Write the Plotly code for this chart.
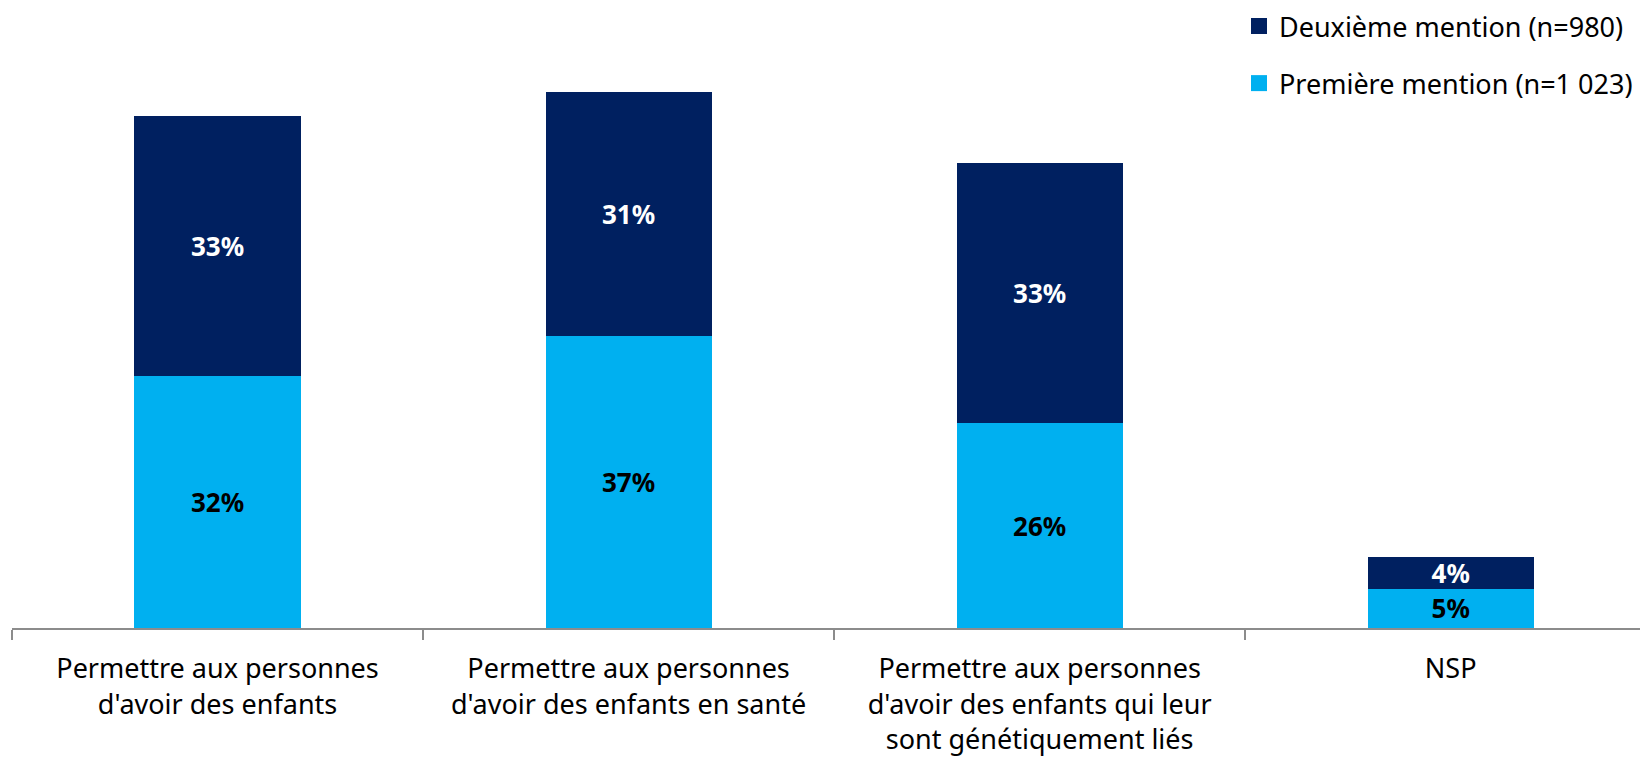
import plotly.graph_objects as go

categories = [
    "Permettre aux personnes<br>d'avoir des enfants",
    "Permettre aux personnes<br>d'avoir des enfants en santé",
    "Permettre aux personnes<br>d'avoir des enfants qui leur<br>sont génétiquement liés",
    "NSP",
]
premiere = [32, 37, 26, 5]
deuxieme = [33, 31, 33, 4]
name_premiere = "Première mention (n=1 023)"
name_deuxieme = "Deuxième mention (n=980)"

FONT = "Noto Sans"
C_PREM = "#00B0F0"
C_DEUX = "#002060"

fig = go.Figure()
fig.add_trace(go.Bar(
    x=categories, y=premiere, name=name_premiere,
    marker=dict(color=C_PREM, line=dict(width=0)),
    text=[f"{v}%" for v in premiere], textposition="inside",
    insidetextanchor="middle",
    textfont=dict(family=FONT, size=26, color="black", weight="bold"),
    width=0.404, showlegend=False,
))
fig.add_trace(go.Bar(
    x=categories, y=deuxieme, name=name_deuxieme,
    marker=dict(color=C_DEUX, line=dict(width=0)),
    text=[f"{v}%" for v in deuxieme], textposition="inside",
    insidetextanchor="middle",
    textfont=dict(family=FONT, size=26, color="white", weight="bold"),
    width=0.404, showlegend=False,
))
# legend entries (square swatches)
fig.add_trace(go.Scatter(
    x=[None], y=[None], mode="markers", name=name_deuxieme,
    marker=dict(symbol="square", size=16, color=C_DEUX),
    legendgroup="b", legendrank=1,
))
fig.add_trace(go.Scatter(
    x=[None], y=[None], mode="markers", name=name_premiere,
    marker=dict(symbol="square", size=16, color=C_PREM),
    legendgroup="a", legendrank=2,
))

fig.update_layout(
    barmode="stack",
    width=1640, height=754,
    margin=dict(l=4, r=0, t=2, b=134, autoexpand=False),
    plot_bgcolor="white", paper_bgcolor="white",
    font=dict(family=FONT, size=27, color="black"),
    uniformtext=dict(minsize=26, mode="show"),
    legend=dict(
        x=0.750, xanchor="left", y=1.013, yanchor="top",
        traceorder="grouped", tracegroupgap=19,
        font=dict(family=FONT, size=27, color="black"),
        itemwidth=30, bgcolor="rgba(0,0,0,0)",
    ),
    xaxis=dict(
        type="category",
        range=[-0.5, 3.48], showline=True, linecolor="#8C8C8C", linewidth=2,
        ticks="outside", tickson="boundaries", ticklen=10, tickcolor="#8C8C8C",
        tickwidth=1.5, showgrid=False, tickfont=dict(size=27),
        ticklabelstandoff=16,
    ),
    yaxis=dict(range=[0, 618 / 7.88], visible=False, showgrid=False),
)

fig.write_html("out.html")
